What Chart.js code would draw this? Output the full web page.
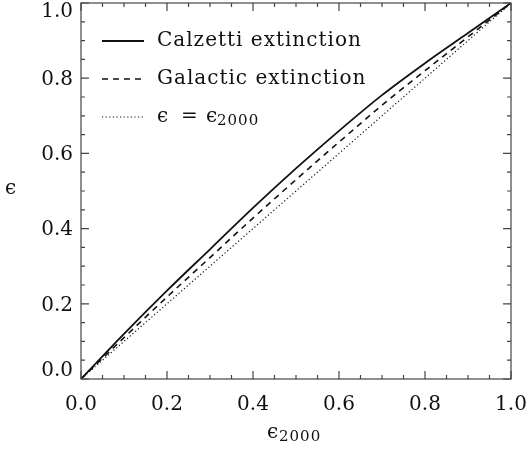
<!DOCTYPE html>
<html>
<head>
<meta charset="utf-8">
<script src="https://cdn.jsdelivr.net/npm/chart.js@4/dist/chart.umd.min.js"></script>
<style>
html,body{margin:0;padding:0;background:#fff;}
#wrap{width:527px;height:452px;position:relative;}
</style>
</head>
<body>
<div id="wrap"><canvas id="c" width="527" height="452"></canvas></div>
<script>
// ---- data ----
const eps2000 = [0, 0.1, 0.2, 0.3, 0.4, 0.5, 0.6, 0.7, 0.8, 0.9, 1.0];
const calzetti = [0, 0.12, 0.235, 0.345, 0.455, 0.56, 0.66, 0.755, 0.84, 0.92, 1.0];
const galactic = [0, 0.11, 0.218, 0.323, 0.428, 0.53, 0.63, 0.728, 0.82, 0.91, 1.0];
const identity = [0, 0.1, 0.2, 0.3, 0.4, 0.5, 0.6, 0.7, 0.8, 0.9, 1.0];
const seriesNames = ["Calzetti extinction", "Galactic extinction", "\u03f5 = \u03f5\u2082\u2080\u2080\u2080"];
const tickValues = [0.0, 0.2, 0.4, 0.6, 0.8, 1.0];
const tickLabels = ["0.0", "0.2", "0.4", "0.6", "0.8", "1.0"];
const minorStep = 0.05;

const FONT = "'DejaVu Serif', serif";
const INK = "#111";

function pts(ys){ return eps2000.map((x,i)=>({x:x, y:ys[i]})); }

const frameAndText = {
  id: 'frameAndText',
  afterDraw(chart){
    const {ctx, chartArea:a, scales} = chart;
    const sx = scales.x, sy = scales.y;
    ctx.save();
    ctx.strokeStyle = "#444";
    ctx.lineWidth = 1.2;
    ctx.strokeRect(a.left, a.top, a.right-a.left, a.bottom-a.top);
    const n = Math.round(1/minorStep);
    for(let i=0;i<=n;i++){
      const v = i*minorStep;
      const major = tickValues.some(t=>Math.abs(t-v)<1e-9);
      const L = major ? 8 : 4;
      const px = sx.getPixelForValue(v), py = sy.getPixelForValue(v);
      ctx.beginPath();
      ctx.moveTo(px, a.bottom); ctx.lineTo(px, a.bottom-L);
      ctx.moveTo(px, a.top); ctx.lineTo(px, a.top+L);
      ctx.moveTo(a.left, py); ctx.lineTo(a.left+L, py);
      ctx.moveTo(a.right, py); ctx.lineTo(a.right-L, py);
      ctx.stroke();
    }
    ctx.fillStyle = INK;
    ctx.textBaseline = 'middle';
    // y tick labels (edge labels kept inside the canvas, as in the reference)
    ctx.textAlign = 'right';
    ctx.font = "20px " + FONT;
    tickValues.forEach((v,i)=>{
      let py = sy.getPixelForValue(v) + 1.5;
      py = Math.max(12, Math.min(a.bottom - 8, py));
      ctx.fillText(tickLabels[i], 73, py);
    });
    ctx.textAlign = 'left';
    try{ ctx.letterSpacing = '1px'; }catch(e){}
    const rows = [41, 79, 117];
    chart.data.datasets.forEach((ds,i)=>{
      const y = rows[i];
      ctx.save();
      ctx.strokeStyle = ds.borderColor;
      ctx.lineWidth = ds.borderWidth;
      ctx.setLineDash(ds.borderDash||[]);
      ctx.beginPath(); ctx.moveTo(102,y); ctx.lineTo(144,y); ctx.stroke();
      ctx.restore();
      ctx.font = "20px " + FONT;
      if(i<2){
        ctx.fillText(seriesNames[i], 157, y);
      } else {
        ctx.fillText("\u03f5", 157, y);
        ctx.fillText("=", 181, y);
        ctx.fillText("\u03f5", 206, y);
        ctx.font = "15px " + FONT;
        ctx.fillText("2000", 217, y+4);
      }
    });
    ctx.font = "20px " + FONT;
    ctx.fillText("\u03f5", 5, 189);
    ctx.fillText("\u03f5", 267, 433);
    ctx.font = "15px " + FONT;
    ctx.fillText("2000", 279, 437);
    ctx.restore();
  }
};

new Chart(document.getElementById('c'), {
  type: 'scatter',
  data: {
    datasets: [
      {label: seriesNames[0], data: pts(calzetti), showLine: true, borderColor: INK, borderWidth: 1.8, pointRadius: 0, cubicInterpolationMode: 'monotone'},
      {label: seriesNames[1], data: pts(galactic), showLine: true, borderColor: INK, borderWidth: 1.6, borderDash: [6,5], pointRadius: 0, cubicInterpolationMode: 'monotone'},
      {label: seriesNames[2], data: pts(identity), showLine: true, borderColor: INK, borderWidth: 1.2, borderDash: [1.2,2.4], pointRadius: 0}
    ]
  },
  options: {
    responsive: false,
    animation: false,
    layout: {padding: {top: 3, right: 16, left: 0, bottom: 0}},
    plugins: {legend: {display: false}, tooltip: {enabled: false}},
    scales: {
      x: {
        type: 'linear', min: 0, max: 1,
        grid: {display: false, drawTicks: false},
        border: {display: false},
        ticks: {stepSize: 0.2, padding: 14, color: INK, font: {family: FONT, size: 20}, callback: v => v.toFixed(1), maxRotation: 0},
        afterFit(s){ s.height = 73; s.paddingLeft = 0; s.paddingRight = 0; }
      },
      y: {
        type: 'linear', min: 0, max: 1,
        grid: {display: false, drawTicks: false},
        border: {display: false},
        ticks: {stepSize: 0.2, display: false},
        afterFit(s){ s.width = 81; s.paddingTop = 0; s.paddingBottom = 0; }
      }
    }
  },
  plugins: [frameAndText]
});
</script>
</body>
</html>
